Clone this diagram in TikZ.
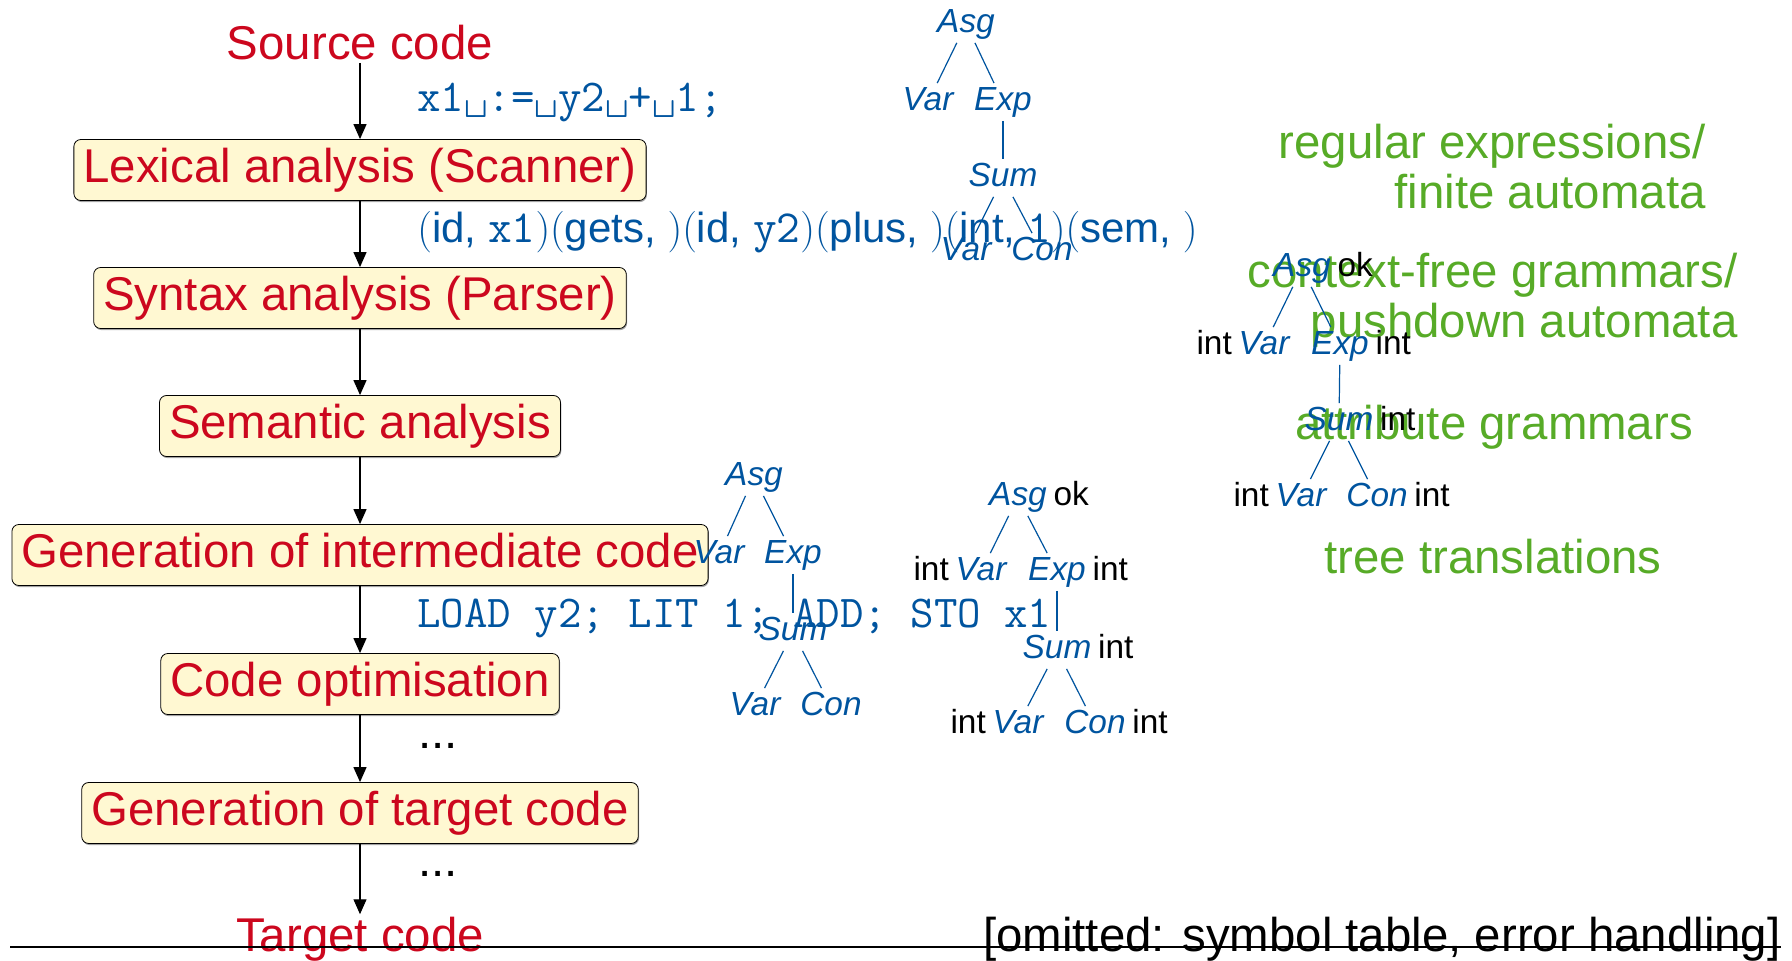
\documentclass[tikz,border=0pt]{standalone}
\usepackage[no-math]{fontspec}
\setmainfont{Liberation Sans}
\setsansfont{Liberation Sans}
\usetikzlibrary{arrows.meta,shadows}
\definecolor{rwthred}{HTML}{CC071E}
\definecolor{rwthblue}{HTML}{00549F}
\definecolor{rwthgreen}{HTML}{57AB27}
\definecolor{boxfill}{HTML}{FFF8D2}
\newcommand\bigfont{\fontsize{23.7}{25}\selectfont}
\newcommand\treefont{\fontsize{16.7}{18}\selectfont}
\newcommand\codefont{\fontsize{22.8}{24}\selectfont\ttfamily}
\newcommand\tokfont{\fontsize{21}{24}\selectfont}
\newcommand\vs{\textvisiblespace}
\newcommand\mono[1]{\texttt{\fontsize{23}{24}\selectfont #1}}
\newcommand\tokA[2]{(\textsf{#1,}\ \mono{#2})}
\newcommand\tokB[1]{(\textsf{#1,}\ )}
\tikzset{
  phase/.style={draw=black, fill=boxfill, rounded corners=3.5pt, text=rwthred,
    font=\bigfont, inner xsep=4.75pt, inner ysep=0pt, minimum height=30.5pt,
    text height=17.3pt, text depth=5pt,
    drop shadow={shadow xshift=0.4pt, shadow yshift=-0.8pt, fill=black!60, opacity=0.6}},
  plain/.style={font=\bigfont, inner sep=1pt},
  redtxt/.style={plain, text=rwthred},
  greentxt/.style={plain, text=rwthgreen, inner sep=0pt},
  codetxt/.style={font=\codefont, text=rwthblue, inner sep=0pt},
  arr/.style={-{Triangle[length=7.5pt,width=6.5pt]}, line width=0.6pt},
  tn/.style={text=rwthblue, font=\treefont\itshape, inner sep=1.5pt, text height=12pt, text depth=3.5pt},
  ta/.style={text=black, font=\treefont, inner sep=1.5pt, text height=12pt, text depth=3.5pt},
  tedge/.style={draw=rwthblue, line width=0.6pt},
}
\begin{document}
\begin{tikzpicture}[x=0.5pt,y=-0.5pt]
\useasboundingbox (0,0) rectangle (1792,961);

% green annotations
\node[greentxt, anchor=base east] (g1a) at (1706,159) {regular expressions/};
\node[greentxt, anchor=base east] (g1b) at (1706,209) {finite automata};
\node[greentxt, anchor=base east] (g2a) at (1738,288) {context-free grammars/};
\node[greentxt, anchor=base east] (g2b) at (1738,338) {pushdown automata};
\node[greentxt, anchor=base] (g3) at (1494,440) {attribute grammars};
\node[greentxt, anchor=base] (g4) at (1493,574) {tree translations};

% phases
\node[redtxt, anchor=base] (src) at (360,60) {Source code};
\node[phase] (lex) at (360,170) {Lexical analysis (Scanner)};
\node[phase] (syn) at (360,298) {Syntax analysis (Parser)};
\node[phase] (sem) at (360,426) {Semantic analysis};
\node[phase] (inter) at (360,555) {Generation of intermediate code};
\node[phase] (opt) at (360,684) {Code optimisation};
\node[phase] (tgt) at (360,813) {Generation of target code};
\node[redtxt, anchor=base] (tcode) at (360,951) {Target code};

\draw[arr] (src) -- (lex);
\draw[arr] (lex) -- (syn);
\draw[arr] (syn) -- (sem);
\draw[arr] (sem) -- (inter);
\draw[arr] (inter) -- (opt);
\draw[arr] (opt) -- (tgt);
\draw[arr] (tgt) -- (tcode);

% intermediate representations
\node[codetxt, anchor=base west] (code1) at (417,112) {x1\vs:=\vs y2\vs+\vs1;};
\node[text=rwthblue, font=\tokfont, inner sep=0pt, anchor=base west] (tokens) at (417,243)
  {$\tokA{id}{x1}\tokB{gets}\tokA{id}{y2}\tokB{plus}\tokA{int}{1}\tokB{sem}$};
\node[codetxt, anchor=base west] (load) at (417,628) {LOAD y2; LIT 1; ADD; STO x1};
\node[plain, inner sep=0pt, anchor=base west] (dots1) at (418,748) {...};
\node[plain, inner sep=0pt, anchor=base west] (dots2) at (418,876) {...};

\node[plain, inner sep=0pt, anchor=base east] (omit) at (1781,951) {[omitted: symbol table, error handling]};
\coordinate (hl) at (10,947);
\coordinate (hr) at (1781,947);
\draw[line width=0.6pt] (hl) -- (hr);

% tree 1 (syntax tree)
\node[tn] (a1) at (966,24) {Asg};
\node[tn] (a1v) at (928,102) {Var};
\node[tn] (a1e) at (1003,102) {Exp};
\node[tn] (a1s) at (1003,178) {Sum};
\node[tn] (a1sv) at (966,252) {Var};
\node[tn] (a1sc) at (1042,252) {Con};
\draw[tedge] (a1) -- (a1v); \draw[tedge] (a1) -- (a1e); \draw[tedge] (a1e) -- (a1s);
\draw[tedge] (a1s) -- (a1sv); \draw[tedge] (a1s) -- (a1sc);

% tree 2 (attributed, right)
\node[tn] (a2) at (1302,268) {Asg};
\node[tn] (a2v) at (1264,346) {Var};
\node[tn] (a2e) at (1340,346) {Exp};
\node[tn] (a2s) at (1339,422) {Sum};
\node[tn] (a2sv) at (1301,498) {Var};
\node[tn] (a2sc) at (1377,498) {Con};
\draw[tedge] (a2) -- (a2v); \draw[tedge] (a2) -- (a2e); \draw[tedge] (a2e) -- (a2s);
\draw[tedge] (a2s) -- (a2sv); \draw[tedge] (a2s) -- (a2sc);
\node[ta, anchor=west] (a2ok) at (a2.east) {ok};
\node[ta, anchor=east] (a2vi) at (a2v.west) {int};
\node[ta, anchor=west] (a2ei) at (a2e.east) {int};
\node[ta, anchor=west] (a2si) at (a2s.east) {int};
\node[ta, anchor=east] (a2svi) at (a2sv.west) {int};
\node[ta, anchor=west] (a2sci) at (a2sc.east) {int};

% tree 3 (syntax tree, middle)
\node[tn] (a3) at (754,477) {Asg};
\node[tn] (a3v) at (719,555) {Var};
\node[tn] (a3e) at (793,555) {Exp};
\node[tn] (a3s) at (793,632) {Sum};
\node[tn] (a3sv) at (755,707) {Var};
\node[tn] (a3sc) at (831,707) {Con};
\draw[tedge] (a3) -- (a3v); \draw[tedge] (a3) -- (a3e); \draw[tedge] (a3e) -- (a3s);
\draw[tedge] (a3s) -- (a3sv); \draw[tedge] (a3s) -- (a3sc);

% tree 4 (attributed, middle)
\node[tn] (a4) at (1018,497) {Asg};
\node[tn] (a4v) at (981,572) {Var};
\node[tn] (a4e) at (1057,572) {Exp};
\node[tn] (a4s) at (1057,650) {Sum};
\node[tn] (a4sv) at (1018,725) {Var};
\node[tn] (a4sc) at (1095,725) {Con};
\draw[tedge] (a4) -- (a4v); \draw[tedge] (a4) -- (a4e); \draw[tedge] (a4e) -- (a4s);
\draw[tedge] (a4s) -- (a4sv); \draw[tedge] (a4s) -- (a4sc);
\node[ta, anchor=west] (a4ok) at (a4.east) {ok};
\node[ta, anchor=east] (a4vi) at (a4v.west) {int};
\node[ta, anchor=west] (a4ei) at (a4e.east) {int};
\node[ta, anchor=west] (a4si) at (a4s.east) {int};
\node[ta, anchor=east] (a4svi) at (a4sv.west) {int};
\node[ta, anchor=west] (a4sci) at (a4sc.east) {int};
\end{tikzpicture}
\end{document}
